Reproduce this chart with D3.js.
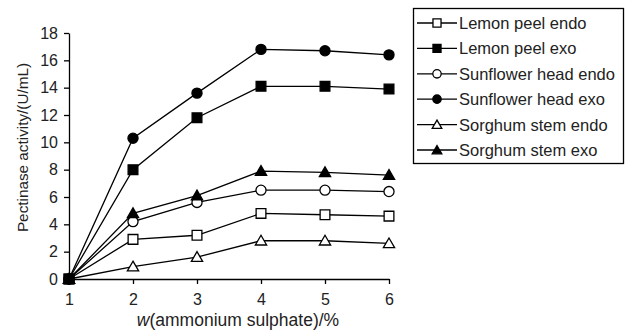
<!DOCTYPE html>
<html>
<head>
<meta charset="utf-8">
<script src="https://cdn.jsdelivr.net/npm/d3@7"></script>
<style>
body { margin: 0; background: #fff; }
svg { font-family: "Liberation Sans", Arial, sans-serif; }
</style>
</head>
<body>
<svg id="chart" width="626" height="331"></svg>
<script>
var concentrations = [1, 2, 3, 4, 5, 6];
var seriesNames = ["Lemon peel endo", "Lemon peel exo", "Sunflower head endo",
    "Sunflower head exo", "Sorghum stem endo", "Sorghum stem exo"];
var lemonEndo = [0, 2.9, 3.2, 4.8, 4.7, 4.6];
var lemonExo = [0, 8.0, 11.8, 14.1, 14.1, 13.9];
var sunflowerEndo = [0, 4.2, 5.6, 6.5, 6.5, 6.4];
var sunflowerExo = [0, 10.3, 13.6, 16.8, 16.7, 16.4];
var sorghumEndo = [0, 0.9, 1.6, 2.8, 2.8, 2.6];
var sorghumExo = [0, 4.8, 6.1, 7.9, 7.8, 7.6];
var yTicks = [0, 2, 4, 6, 8, 10, 12, 14, 16, 18];

// marker shape + fill per series
var markers = [
    {shape: "square", fill: "#fff"},
    {shape: "square", fill: "#000"},
    {shape: "circle", fill: "#fff"},
    {shape: "circle", fill: "#000"},
    {shape: "triangle", fill: "#fff"},
    {shape: "triangle", fill: "#000"}
];
var allSeries = [lemonEndo, lemonExo, sunflowerEndo, sunflowerExo, sorghumEndo, sorghumExo];

var margin = {top: 33, left: 69},
    width = 320, height = 246;

var svg = d3.select("#chart");
var g = svg.append("g").attr("transform", "translate(" + margin.left + "," + margin.top + ")");

var x = d3.scaleLinear().domain([1, 6]).range([0, width]);
var y = d3.scaleLinear().domain([0, 18]).range([height, 0]);

var xAxis = g.append("g")
    .attr("transform", "translate(0," + height + ")")
    .call(d3.axisBottom(x).tickValues(concentrations).tickSize(5).tickSizeOuter(0).tickFormat(d3.format("d")));
var yAxis = g.append("g")
    .call(d3.axisLeft(y).tickValues(yTicks).tickSize(5).tickSizeOuter(0));

[xAxis, yAxis].forEach(function(a) {
    a.selectAll("path, line").attr("stroke", "#000").attr("stroke-width", 1.3);
    a.selectAll("text").attr("font-size", 16).attr("fill", "#222")
        .attr("font-family", "Liberation Sans, Arial, sans-serif");
});
xAxis.selectAll("text").attr("dy", "0").attr("y", 26);
yAxis.selectAll("text").attr("x", -11);

var symbolFor = function(shape, size) {
    var t = shape == "square" ? d3.symbolSquare : shape == "circle" ? d3.symbolCircle : d3.symbolTriangle;
    return d3.symbol().type(t).size(size)();
};

var line = d3.line()
    .x(function(d, i) { return x(concentrations[i]); })
    .y(function(d) { return y(d); });

allSeries.forEach(function(vals, si) {
    g.append("path")
        .attr("d", line(vals))
        .attr("fill", "none")
        .attr("stroke", "#000")
        .attr("stroke-width", 1.3);
});

allSeries.forEach(function(vals, si) {
    var m = markers[si];
    var size = m.shape == "triangle" ? 55 : m.shape == "circle" ? 80 : 95;
    g.selectAll(".pt" + si)
        .data(vals)
        .enter().append("path")
        .attr("d", symbolFor(m.shape, size))
        .attr("transform", function(d, i) {
            var dy = m.shape == "triangle" ? 1 : 0;
            return "translate(" + x(concentrations[i]) + "," + (y(d) + dy) + ")";
        })
        .attr("fill", m.fill)
        .attr("stroke", "#000")
        .attr("stroke-width", 1.3);
});

// axis titles
svg.append("text")
    .attr("transform", "translate(28,147.5) rotate(-90)")
    .attr("text-anchor", "middle")
    .attr("font-size", 15.3)
    .attr("fill", "#222")
    .text("Pectinase activity/(U/mL)");

var xt = svg.append("text")
    .attr("x", 238).attr("y", 326)
    .attr("text-anchor", "middle")
    .attr("font-size", 17.5)
    .attr("fill", "#222");
xt.append("tspan").attr("font-style", "italic").text("w");
xt.append("tspan").text("(ammonium sulphate)/%");

// legend
var legend = svg.append("g");
legend.append("rect")
    .attr("x", 413.5).attr("y", 8.5)
    .attr("width", 210).attr("height", 155)
    .attr("fill", "#fff").attr("stroke", "#000").attr("stroke-width", 1.3);

seriesNames.forEach(function(name, i) {
    var cy = 23 + i * 25.4;
    var m = markers[i];
    legend.append("line")
        .attr("x1", 417).attr("x2", 457)
        .attr("y1", cy).attr("y2", cy)
        .attr("stroke", "#000").attr("stroke-width", 1.3);
    legend.append("path")
        .attr("d", symbolFor(m.shape, m.shape == "triangle" ? 40 : m.shape == "circle" ? 55 : 65))
        .attr("transform", "translate(437," + (cy + (m.shape == "triangle" ? 1 : 0)) + ")")
        .attr("fill", m.fill).attr("stroke", "#000").attr("stroke-width", 1.3);
    legend.append("text")
        .attr("x", 459).attr("y", cy)
        .attr("dy", "0.36em")
        .attr("font-size", 16.5)
        .attr("fill", "#222")
        .text(name);
});
</script>
</body>
</html>
